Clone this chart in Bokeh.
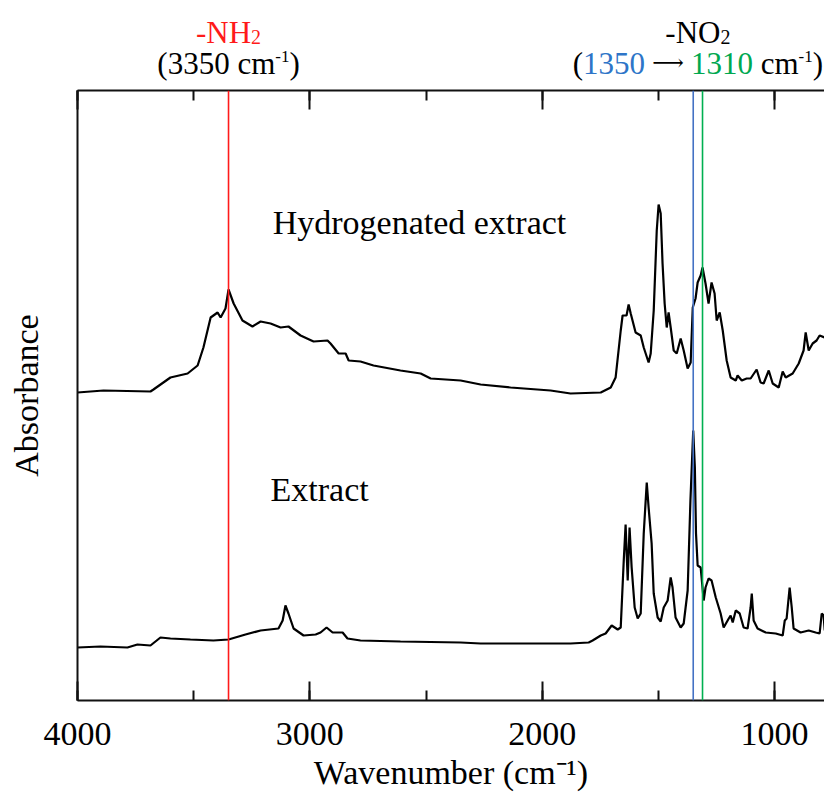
from bokeh.plotting import figure
from bokeh.models import Range1d, LinearAxis, SingleIntervalTicker, FixedTicker, Span, Label
from bokeh.layouts import column
from bokeh.embed import file_html
from bokeh.resources import INLINE

# ---------------- data ----------------
hyd_wn = [4000, 3888, 3686, 3673, 3600, 3526, 3483, 3458, 3427, 3415, 3397, 3384, 3363, 3350, 3328,
          3290, 3247, 3212, 3169, 3126, 3092, 3040, 2984, 2924, 2911, 2876, 2846, 2833, 2782, 2726,
          2610, 2523, 2480, 2351, 2265, 2136, 1964, 1878, 1748, 1705, 1684, 1662, 1654, 1637, 1628,
          1619, 1598, 1576, 1563, 1542, 1533, 1520, 1507, 1499, 1490, 1482, 1473, 1464, 1456, 1447,
          1434, 1421, 1404, 1391, 1374, 1361, 1352, 1340, 1331, 1318, 1310, 1297, 1284, 1271, 1258,
          1249, 1236, 1223, 1206, 1189, 1167, 1159, 1141, 1120, 1103, 1077, 1060, 1047, 1025, 1008,
          982, 965, 952, 922, 896, 875, 866, 853, 836, 819, 806, 784]
hyd_abs = [3.08, 3.10, 3.09, 3.11, 3.23, 3.27, 3.35, 3.53, 3.83, 3.85, 3.88, 3.83, 3.92, 4.11, 3.97,
           3.80, 3.74, 3.79, 3.77, 3.73, 3.74, 3.65, 3.59, 3.60, 3.57, 3.47, 3.47, 3.40, 3.39, 3.35,
           3.30, 3.27, 3.22, 3.20, 3.16, 3.13, 3.10, 3.07, 3.08, 3.13, 3.23, 3.70, 3.85, 3.85, 3.96,
           3.87, 3.68, 3.65, 3.53, 3.38, 3.47, 3.90, 4.70, 4.96, 4.87, 4.37, 3.97, 3.73, 3.88, 3.73,
           3.50, 3.47, 3.62, 3.50, 3.32, 3.38, 3.93, 4.02, 4.18, 4.25, 4.33, 4.17, 3.97, 4.18, 4.07,
           3.80, 3.88, 3.70, 3.40, 3.23, 3.20, 3.25, 3.20, 3.22, 3.22, 3.31, 3.18, 3.17, 3.30, 3.17,
           3.13, 3.29, 3.23, 3.27, 3.37, 3.50, 3.68, 3.50, 3.57, 3.60, 3.65, 3.63]

ext_wn = [4000, 3901, 3785, 3742, 3686, 3643, 3600, 3514, 3415, 3350, 3277, 3212, 3135, 3117, 3105,
          3092, 3070, 3027, 2975, 2954, 2928, 2902, 2859, 2838, 2782, 2610, 2351, 2265, 2007, 1878,
          1800, 1783, 1748, 1727, 1701, 1675, 1662, 1649, 1641, 1632, 1624, 1615, 1602, 1589, 1576,
          1563, 1550, 1542, 1529, 1520, 1503, 1490, 1477, 1460, 1447, 1439, 1426, 1404, 1391, 1374,
          1362, 1350, 1343, 1338, 1331, 1318, 1305, 1297, 1284, 1271, 1253, 1232, 1219, 1197, 1189,
          1180, 1167, 1150, 1133, 1116, 1103, 1098, 1090, 1073, 1038, 995, 965, 956, 948, 935,
          926, 918, 888, 853, 823, 806, 797, 789, 784]
ext_abs = [0.53, 0.54, 0.53, 0.56, 0.55, 0.63, 0.62, 0.61, 0.60, 0.61, 0.66, 0.70, 0.72, 0.80, 0.95,
           0.87, 0.72, 0.65, 0.66, 0.68, 0.73, 0.68, 0.68, 0.62, 0.60, 0.59, 0.58, 0.57, 0.57, 0.57,
           0.58, 0.60, 0.65, 0.67, 0.75, 0.71, 0.73, 1.40, 1.76, 1.20, 1.73, 1.33, 0.93, 0.82, 0.87,
           1.67, 2.18, 1.93, 1.57, 1.07, 0.83, 0.79, 0.93, 1.00, 1.23, 1.13, 0.83, 0.73, 0.77, 1.10,
           2.00, 2.70, 2.33, 1.67, 1.35, 1.33, 1.00, 1.13, 1.22, 1.20, 1.03, 0.87, 0.73, 0.82, 0.85,
           0.78, 0.90, 0.87, 0.73, 0.72, 0.93, 1.07, 0.80, 0.72, 0.68, 0.67, 0.65, 0.80, 0.82, 1.13,
           0.93, 0.72, 0.68, 0.70, 0.68, 0.67, 0.87, 0.85, 0.70]

marker_lines = [3350, 1350, 1310]
marker_colors = ["#FF1A1A", "#4472C4", "#00B050"]
x_ticks_interval = 1000

FONT = "Liberation Serif"
RED, BLUE, GREEN = "#FF1A1A", "#2E75C8", "#00A850"
FIX = 11  # px: upward correction of label baselines

x_range = Range1d(4000, 785)

# ---------------- main figure ----------------
p = figure(width=824, height=706, output_backend="svg", toolbar_location=None,
           x_range=x_range, y_range=Range1d(0, 6.1),
           x_axis_location=None, y_axis_location=None,
           min_border_left=77, min_border_right=0, min_border_top=2, min_border_bottom=94)
p.outline_line_color = None
p.xgrid.visible = False
p.ygrid.visible = False

def make_xaxis(labels=True):
    ax = LinearAxis(ticker=SingleIntervalTicker(interval=x_ticks_interval, num_minor_ticks=2))
    ax.axis_line_color = "#111111"
    ax.axis_line_width = 2
    ax.major_tick_line_color = "#111111"
    ax.major_tick_line_width = 2
    ax.minor_tick_line_color = "#111111"
    ax.minor_tick_line_width = 2
    ax.major_tick_in = 19
    ax.major_tick_out = 0
    ax.minor_tick_in = 10
    ax.minor_tick_out = 0
    if labels:
        ax.major_label_text_font = FONT
        ax.major_label_text_font_size = "34px"
        ax.major_label_text_color = "black"
        ax.major_label_standoff = 22
        ax.axis_label = "Wavenumber (cm\u207B\u00B9)"
        ax.axis_label_text_font = FONT
        ax.axis_label_text_font_size = "34px"
        ax.axis_label_text_font_style = "normal"
        ax.axis_label_text_color = "black"
        ax.axis_label_standoff = 6
    else:
        ax.major_label_text_font_size = "1px"
        ax.major_label_text_color = None
        ax.major_label_standoff = 0
    return ax

p.add_layout(make_xaxis(True), "below")
p.add_layout(make_xaxis(False), "above")

yax = LinearAxis(ticker=FixedTicker(ticks=[]))
yax.axis_line_color = "#111111"
yax.axis_line_width = 2
yax.major_tick_line_color = None
yax.minor_tick_line_color = None
yax.major_label_text_font_size = "1px"
yax.major_label_text_color = None
yax.major_label_standoff = 0
yax.axis_label = "Absorbance"
yax.axis_label_text_font = FONT
yax.axis_label_text_font_size = "34px"
yax.axis_label_text_font_style = "normal"
yax.axis_label_text_color = "black"
yax.axis_label_standoff = 33
p.add_layout(yax, "left")

for loc, col in zip(marker_lines, marker_colors):
    p.add_layout(Span(location=loc, dimension="height", line_color=col, line_width=1.6))

p.line(hyd_wn, hyd_abs, line_color="black", line_width=2.2)
p.line(ext_wn, ext_abs, line_color="black", line_width=2.2)

p.add_layout(Label(x=3160, y=4.67, y_offset=FIX, text="Hydrogenated extract", text_font=FONT,
                   text_font_size="34px", text_color="black", text_baseline="alphabetic"))
p.add_layout(Label(x=3169, y=2.00, y_offset=FIX, text="Extract", text_font=FONT,
                   text_font_size="34px", text_color="black", text_baseline="alphabetic"))

# ---------------- rich text helper (for the annotations above the frame) ----------------
W = {str(d): 0.5 for d in range(10)}
W.update({"(": 0.333, ")": 0.333, " ": 0.25, "-": 0.333, "c": 0.444, "m": 0.778, "N": 0.722,
          "H": 0.722, "O": 0.722})

def tw(s, size):
    return sum(W.get(ch, 0.5) for ch in s) * size

def rich(fig, pieces, x, y):
    # pieces: (text, font size, colour, vertical shift, slot width in px or None, font)
    widths = [(slot if slot else tw(t, s)) for t, s, c, dy, slot, fnt in pieces]
    off = -sum(widths) / 2
    for (t, s, c, dy, slot, fnt), w in zip(pieces, widths):
        if slot:
            fig.add_layout(Label(x=x, y=y, x_offset=off + w / 2, y_offset=dy + FIX,
                                 text=t.strip(" "), text_font=fnt, text_font_size=f"{s}px",
                                 text_color=c, text_align="center", text_baseline="alphabetic"))
        else:
            lead = len(t) - len(t.lstrip(" "))
            fig.add_layout(Label(x=x, y=y, x_offset=off + tw(t[:lead], s), y_offset=dy + FIX,
                                 text=t.strip(" "), text_font=fnt, text_font_size=f"{s}px",
                                 text_color=c, text_align="left", text_baseline="alphabetic"))
        off += w

F = FONT
head = figure(width=824, height=88, output_backend="svg", toolbar_location=None,
              x_range=x_range, y_range=Range1d(0, 88),
              x_axis_location=None, y_axis_location=None,
              min_border_left=77, min_border_right=0, min_border_top=0, min_border_bottom=0)
head.outline_line_color = None
head.xgrid.visible = False
head.ygrid.visible = False

rich(head, [("-NH", 31, RED, 0, None, F), ("2", 20, RED, -4, None, F)], 3350, 45)
rich(head, [("(3350 cm", 31, "black", 0, None, F), ("-1", 17, "black", 7, None, F),
            (")", 31, "black", 0, None, F)], 3350, 14)
rich(head, [("-NO", 31, "black", 0, None, F), ("2", 20, "black", -4, None, F)], 1330, 45)
rich(head, [("(", 31, "black", 0, None, F), ("1350", 31, BLUE, 0, None, F),
            ("\u27F6", 22, "black", 1, 46, "DejaVu Serif"),
            ("1310", 31, GREEN, 0, None, F), (" cm", 31, "black", 0, None, F),
            ("-1", 17, "black", 7, None, F), (")", 31, "black", 0, None, F)], 1330, 14)

layout = column(head, p, spacing=0)
open("out.html", "w").write(file_html(layout, INLINE))
